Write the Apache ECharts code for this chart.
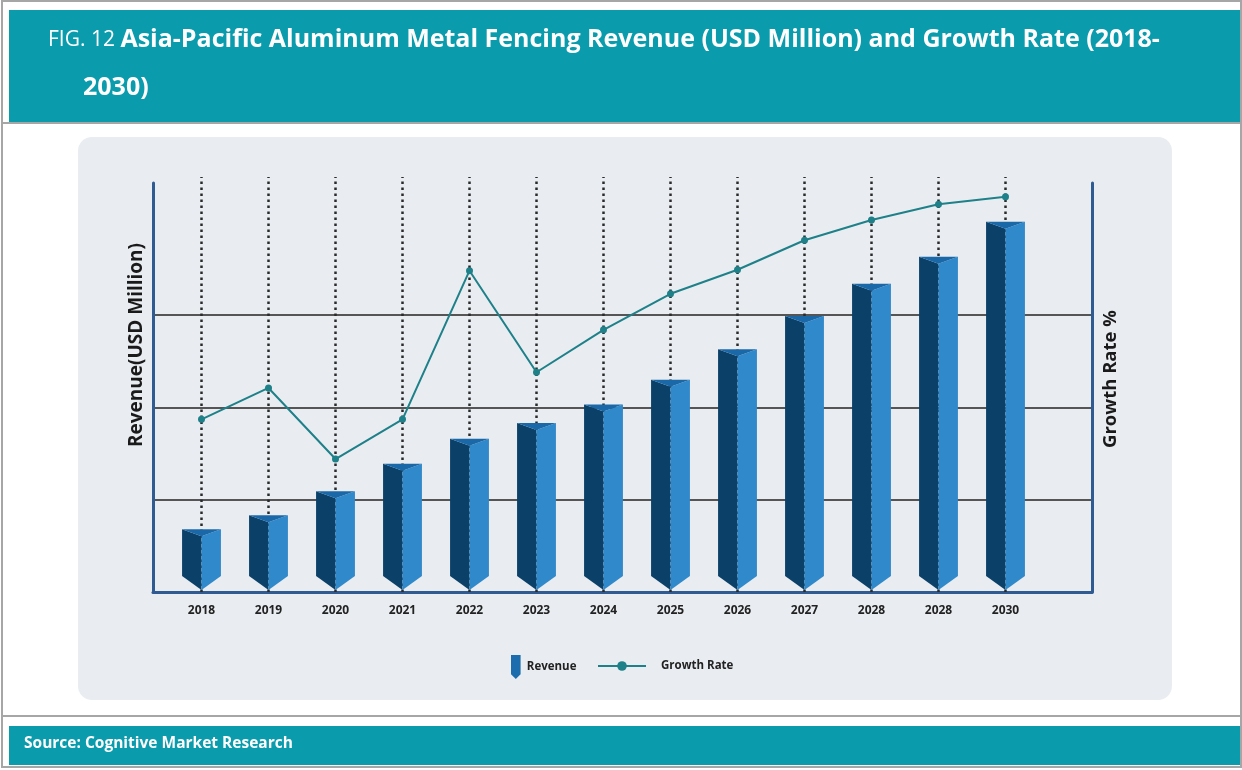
<!DOCTYPE html>
<html>
<head>
<meta charset="utf-8">
<script src="https://cdn.jsdelivr.net/npm/echarts@6/dist/echarts.min.js"></script>
<style>
  html, body { margin: 0; padding: 0; background: #fff; }
  #chart { width: 1242px; height: 770px; }
</style>
</head>
<body>
<div id="chart"></div>
<script>
  // categories as printed on the source (the second "2028" is in the original)
  var years = ['2018', '2019', '2020', '2021', '2022', '2023', '2024', '2025', '2026', '2027', '2028', '2028', '2030'];
  // revenue, USD million (axis 0-443)
  var revenue = [68, 83, 109, 139, 166, 183, 203, 230, 263, 299, 334, 363, 401];
  // growth rate, % (axis 0-44.3)
  var growth = [18.7, 22.1, 14.4, 18.7, 34.8, 23.8, 28.4, 32.3, 34.9, 38.1, 40.3, 42.0, 42.8];

  var teal = '#0A9BAD';
  var axisBlue = '#2F5A92';

  var myChart = echarts.init(document.getElementById('chart'));

  // prism shaped bar: dark left face, light right face, pointed bottom
  function renderPrism(params, api) {
    var i = api.value(0);
    var top = api.coord([i, api.value(1)]);
    var base = api.coord([i, 0]);
    var w = api.size([1, 0])[0] * 0.58;
    var L = top[0] - w / 2, R = top[0] + w / 2, C = top[0];
    var t = top[1], b = base[1] - 2;
    var dip = 7, tip = 14;
    return {
      type: 'group',
      children: [
        { type: 'polygon', shape: { points: [[L, t], [C, t + dip], [C, b], [L, b - tip]] }, style: { fill: '#0B4169' } },
        { type: 'polygon', shape: { points: [[C, t + dip], [R, t], [R, b - tip], [C, b]] }, style: { fill: '#3089CA' } },
        { type: 'polygon', shape: { points: [[L, t], [R, t], [C, t + dip]] }, style: { fill: '#1A68A8' } }
      ]
    };
  }

  var option = {
    backgroundColor: '#fff',
    animation: false,
    graphic: [
      { type: 'rect', z: -10, shape: { x: 2, y: 1, width: 1239, height: 766 }, style: { fill: '#fff', stroke: '#A6A6A6', lineWidth: 2 } },
      { type: 'rect', z: -9, shape: { x: 9, y: 10, width: 1231, height: 113 }, style: { fill: teal } },
      { type: 'rect', z: -9, shape: { x: 2, y: 122, width: 1239, height: 2 }, style: { fill: '#A6A6A6' } },
      {
        type: 'text', z: 5, x: 48, y: 40,
        style: {
          text: '{a|FIG. 12 }{b|Asia-Pacific Aluminum Metal Fencing Revenue (USD Million) and Growth Rate (2018-}',
          verticalAlign: 'middle',
          rich: {
            a: { fontFamily: 'Open Sans', fontSize: 21, fontWeight: 'normal', fill: '#fff' },
            b: { fontFamily: 'Open Sans', fontSize: 25, fontWeight: 'bold', fill: '#fff' }
          }
        }
      },
      { type: 'text', z: 5, x: 83, y: 88, style: { text: '2030)', fontFamily: 'Open Sans', fontSize: 25, fontWeight: 'bold', fill: '#fff', verticalAlign: 'middle' } },
      { type: 'rect', z: -9, shape: { x: 78, y: 137, width: 1094, height: 563, r: 14 }, style: { fill: '#E9EDF1' } },
      { type: 'rect', z: -9, shape: { x: 2, y: 715, width: 1239, height: 2 }, style: { fill: '#A6A6A6' } },
      { type: 'rect', z: -9, shape: { x: 9, y: 726, width: 1231, height: 39 }, style: { fill: teal } },
      { type: 'text', z: 5, x: 24, y: 744, style: { text: 'Source: Cognitive Market Research', fontFamily: 'Open Sans', fontSize: 15.5, fontWeight: 'bold', fill: '#fff', verticalAlign: 'middle' } },
      { type: 'text', z: 5, x: 137, y: 345, rotation: Math.PI / 2, style: { text: 'Revenue(USD Million)', fontFamily: 'Open Sans', fontSize: 19, fontWeight: 'bold', fill: '#1a1a1a', align: 'center', verticalAlign: 'middle' } },
      { type: 'text', z: 5, x: 1111, y: 379, rotation: Math.PI / 2, style: { text: 'Growth Rate %', fontFamily: 'Open Sans', fontSize: 18.5, fontWeight: 'bold', fill: '#1a1a1a', align: 'center', verticalAlign: 'middle' } }
    ],
    legend: [
      {
        data: [{ name: 'Revenue', icon: 'path://M0,0 L10,0 L10,20 L5,25 L0,20 Z' }],
        left: 506, top: 650,
        itemWidth: 10, itemHeight: 24,
        textStyle: { fontFamily: 'Open Sans', fontSize: 11.5, fontWeight: 'bold', color: '#222', padding: [0, 0, 0, 1] }
      },
      {
        data: ['Growth Rate'],
        left: 592, top: 655,
        itemWidth: 48, itemHeight: 12,
        textStyle: { fontFamily: 'Open Sans', fontSize: 11.5, fontWeight: 'bold', color: '#222', padding: [0, 0, 0, 10] }
      }
    ],
    grid: [
      { left: 153, right: 150, top: 183, bottom: 178 },
      { left: 168, right: 203, top: 183, bottom: 178 }
    ],
    xAxis: [
      {
        gridIndex: 0, type: 'value', min: 0, max: 1,
        axisLine: { show: true, onZero: false, lineStyle: { color: axisBlue, width: 3 } },
        axisTick: { show: false }, axisLabel: { show: false }, splitLine: { show: false }
      },
      {
        gridIndex: 1, type: 'category', data: years,
        axisLine: { show: false },
        axisTick: {
          show: true, alignWithLabel: true, inside: true, length: 415,
          lineStyle: { color: '#2a2a2a', width: 2.5, type: [2.5, 3.5] }
        },
        axisLabel: { margin: 13, fontFamily: 'Open Sans', fontSize: 12, fontWeight: 'bold', color: '#222' },
        splitLine: { show: false }
      }
    ],
    yAxis: [
      {
        gridIndex: 0, type: 'value', min: 0, max: 443, interval: 100,
        axisLine: { show: true, lineStyle: { color: axisBlue, width: 3 } },
        axisTick: { show: false }, axisLabel: { show: false },
        splitLine: {
          show: true,
          lineStyle: { color: ['rgba(0,0,0,0)', '#555', '#555', '#555', 'rgba(0,0,0,0)', 'rgba(0,0,0,0)'], width: 2 }
        }
      },
      {
        gridIndex: 0, type: 'value', position: 'right', min: 0, max: 443,
        axisLine: { show: true, lineStyle: { color: axisBlue, width: 3 } },
        axisTick: { show: false }, axisLabel: { show: false }, splitLine: { show: false }
      },
      {
        gridIndex: 1, type: 'value', min: 0, max: 443, show: false
      },
      {
        gridIndex: 1, type: 'value', min: 0, max: 44.3, show: false, position: 'right'
      }
    ],
    series: [
      {
        name: 'Revenue',
        type: 'custom',
        xAxisIndex: 1, yAxisIndex: 2,
        itemStyle: { color: '#1C6DAE' },
        encode: { x: 0, y: 1 },
        renderItem: renderPrism,
        data: revenue.map(function (v, i) { return [i, v]; }),
        z: 3
      },
      {
        name: 'Growth Rate',
        type: 'line',
        xAxisIndex: 1, yAxisIndex: 3,
        data: growth,
        symbol: 'circle', symbolSize: 7,
        itemStyle: { color: '#1E8088' },
        lineStyle: { color: '#1E8088', width: 2 },
        z: 4
      }
    ]
  };

  myChart.setOption(option);
</script>
</body>
</html>
